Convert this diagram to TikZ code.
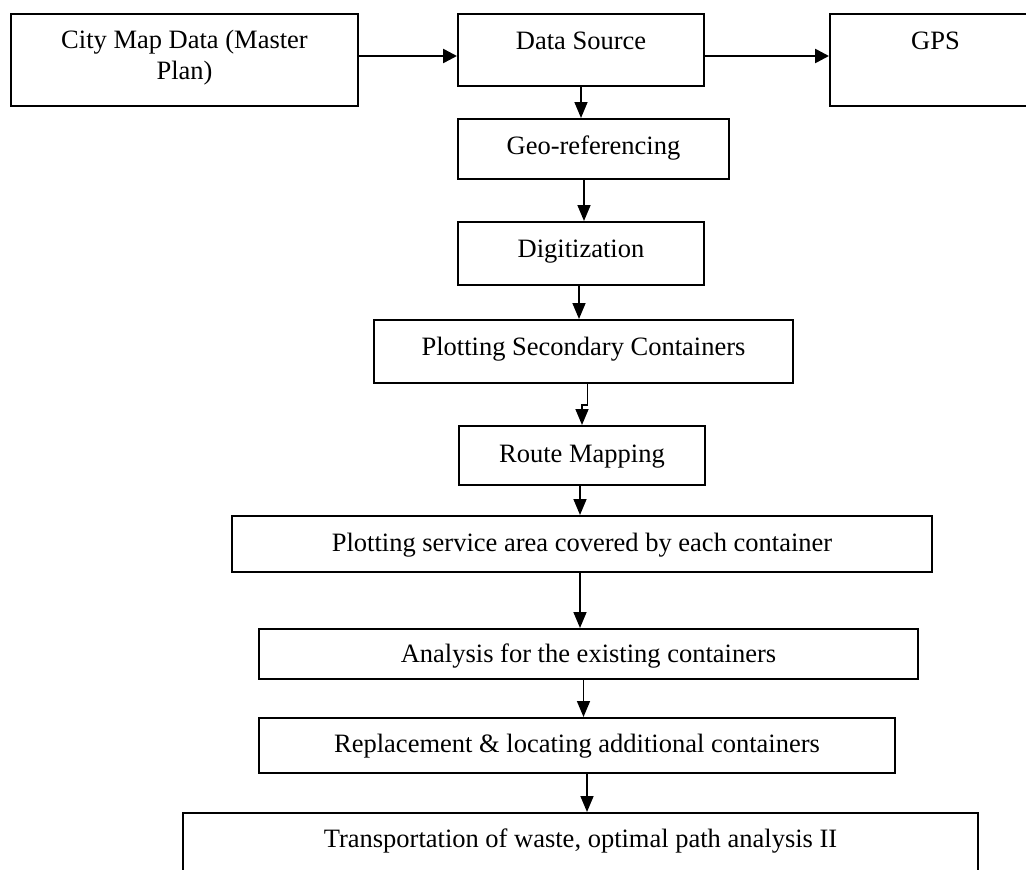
\documentclass[tikz,border=0pt]{standalone}
\usepackage{fontspec}
\setmainfont{Liberation Serif}
\usetikzlibrary{arrows.meta}
\begin{document}
\begin{tikzpicture}[x=1pt,y=-1pt,
  box/.style={draw=black, line width=2pt, inner sep=0pt, anchor=north west},
  lbl/.style={anchor=base, inner sep=0pt, font=\fontsize{26.5}{31}\selectfont, align=center},
  arr/.style={draw=black, line width=1.6pt, -{Triangle[length=16pt,width=13pt]}},
  harr/.style={draw=black, line width=2.6pt, -{Triangle[length=14pt,width=14pt]}}]
\useasboundingbox (0,0) rectangle (1026,870);
\clip (0,0) rectangle (1026,870);
% boxes
\node[box, minimum width=347pt, minimum height=92pt] (city) at (10,13) {};
\node[box, minimum width=246pt, minimum height=72pt] (ds) at (457,13) {};
\node[box, minimum width=211pt, minimum height=92pt] (gps) at (829,13) {};
\node[box, minimum width=271pt, minimum height=60pt] (geo) at (457,118) {};
\node[box, minimum width=246pt, minimum height=63pt] (dig) at (457,221) {};
\node[box, minimum width=419pt, minimum height=63pt] (psc) at (373,319) {};
\node[box, minimum width=246pt, minimum height=59pt] (rm) at (458,425) {};
\node[box, minimum width=700pt, minimum height=56pt] (psa) at (231,515) {};
\node[box, minimum width=659pt, minimum height=50pt] (aec) at (258,628) {};
\node[box, minimum width=636pt, minimum height=55pt] (rla) at (258,717) {};
\node[box, minimum width=795pt, minimum height=80pt] (tw) at (182,812) {};
% labels
\node[lbl] (tcity) at ([yshift=-66pt]city.north) {City Map Data (Master\\Plan)};
\node[lbl] (tds) at ([yshift=-36pt]ds.north) {Data Source};
\node[lbl] (tgps) at ([xshift=0pt,yshift=-36pt]gps.north) {GPS};
\node[lbl] (tgeo) at ([yshift=-36pt]geo.north) {Geo-referencing};
\node[lbl] (tdig) at ([yshift=-36pt]dig.north) {Digitization};
\node[lbl] (tpsc) at ([yshift=-36pt]psc.north) {Plotting Secondary Containers};
\node[lbl] (trm) at ([yshift=-37pt]rm.north) {Route Mapping};
\node[lbl] (tpsa) at ([yshift=-36pt]psa.north) {Plotting service area covered by each container};
\node[lbl] (taec) at ([yshift=-34pt]aec.north) {Analysis for the existing containers};
\node[lbl] (trla) at ([yshift=-35pt]rla.north) {Replacement \& locating additional containers};
\node[lbl] (ttw) at ([yshift=-35pt]tw.north) {Transportation of waste, optimal path analysis II};
% connectors
\draw[harr] ([yshift=-43pt]city.north east) -- ([yshift=-43pt]ds.north west);
\draw[harr] ([yshift=-43pt]ds.north east) -- ([yshift=-43pt]gps.north west);
\draw[arr] (ds.south) -- (ds.south |- geo.north);
\draw[arr] ([xshift=3pt]dig.north |- geo.south) -- ([xshift=3pt]dig.north);
\draw[arr] ([xshift=-2pt]dig.south) -- ([xshift=-2pt]dig.south |- psc.north);
\draw[arr] ([xshift=4pt]psc.south) -- ++(0,21) -| (rm.north);
\draw[arr] ([xshift=-2pt]rm.south) -- ([xshift=-2pt]rm.south |- psa.north);
\draw[arr] ([xshift=-2pt]psa.south) -- ([xshift=-2pt]psa.south |- aec.north);
\draw[arr] ([xshift=-5pt]aec.south) -- ([xshift=-5pt]aec.south |- rla.north);
\draw[arr] ([xshift=10pt]rla.south) -- ([xshift=10pt]rla.south |- tw.north);
\end{tikzpicture}
\end{document}
